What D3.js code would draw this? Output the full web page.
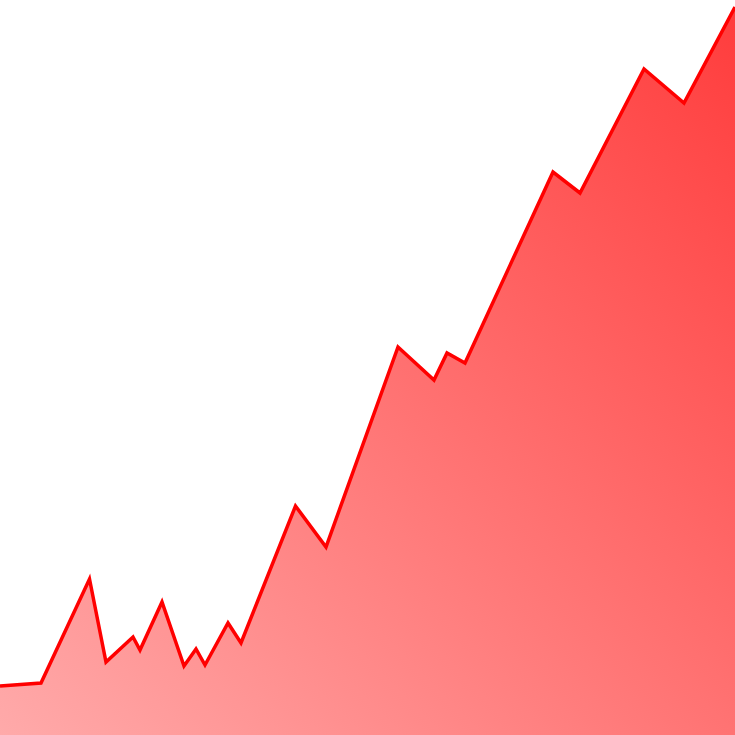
<!DOCTYPE html>
<html><head><meta charset="utf-8">
<script src="https://cdn.jsdelivr.net/npm/d3@7"></script>
<style>html,body{margin:0;padding:0;background:#fff;overflow:hidden}</style>
</head><body>
<svg id="chart" width="735" height="735"></svg>
<script>
const xs = [0, 41, 89.5, 106, 133, 140, 162, 184, 196, 205, 228, 241, 295.5, 326, 398, 434, 447, 465, 553, 580, 644, 684, 735];
const values = [49, 52, 156, 73, 98, 85, 133, 69, 86, 70, 112, 92, 229, 188, 388, 355, 382, 372, 563, 542, 666, 632, 728];
const data = xs.map((x, i) => ({x, v: values[i]}));
const W = 735, H = 735;
const svg = d3.select("#chart");
const x = d3.scaleLinear().domain([0, 735]).range([0, W]);
const y = d3.scaleLinear().domain([0, 735]).range([H, 0]);
const defs = svg.append("defs");
const g = defs.append("linearGradient").attr("id", "fillGrad")
  .attr("gradientUnits", "userSpaceOnUse")
  .attr("x1", 0).attr("y1", H).attr("x2", W).attr("y2", 0);
g.append("stop").attr("offset", "0%").attr("stop-color", "rgb(255,170,170)");
g.append("stop").attr("offset", "100%").attr("stop-color", "rgb(255,60,60)");
const area = d3.area().x(d => x(d.x)).y0(H).y1(d => y(d.v));
const line = d3.line().x(d => x(d.x)).y(d => y(d.v));
svg.append("path").datum(data).attr("d", area).attr("fill", "url(#fillGrad)");
svg.append("path").datum(data).attr("d", line).attr("fill", "none")
  .attr("stroke", "#ff0000").attr("stroke-width", 3.5).attr("stroke-linejoin", "miter");
</script>
</body></html>
